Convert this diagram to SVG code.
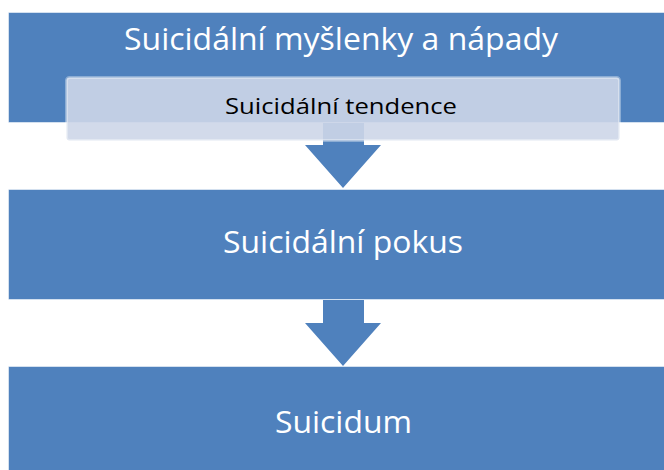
<svg xmlns="http://www.w3.org/2000/svg" width="664" height="470" viewBox="0 0 664 470">
  <style>
    .box { fill: #4F81BD; stroke: #FFFFFF; stroke-opacity: 0.5; stroke-width: 1; }
    .arrow { fill: #4F81BD; }
    .big { font-family: "Open Sans", "Noto Sans", sans-serif; fill: #FFFFFF; text-anchor: middle; }
    .small { font-family: "Open Sans", "Noto Sans", sans-serif; fill: #000000; text-anchor: middle; }
    .overlay { fill: #CDD6E8; fill-opacity: 0.9; stroke: #FFFFFF; stroke-opacity: 0.35; stroke-width: 3; }
  </style>
  <rect x="0" y="0" width="664" height="470" fill="#FFFFFF"/>
  <g id="node-myslenky">
    <rect class="box" x="8.5" y="12.5" width="670" height="110"/>
    <text class="big" x="341" y="50" font-size="31" textLength="434" lengthAdjust="spacingAndGlyphs">Suicidální myšlenky a nápady</text>
  </g>
  <g id="connectors">
    <path class="arrow" d="M323,123 L364,123 L364,145 L381,145 L343,188 L305,145 L323,145 Z"/>
    <path class="arrow" d="M323,300 L364,300 L364,323 L381,323 L343,366 L305,323 L323,323 Z"/>
  </g>
  <g id="node-tendence">
    <rect class="overlay" x="66.5" y="77.5" width="553" height="63" rx="3"/>
    <text class="small" x="341" y="113.5" font-size="22" textLength="232" lengthAdjust="spacingAndGlyphs">Suicidální tendence</text>
  </g>
  <g id="node-pokus">
    <rect class="box" x="8.5" y="189.5" width="670" height="110"/>
    <text class="big" x="343" y="253.3" font-size="31" textLength="240" lengthAdjust="spacingAndGlyphs">Suicidální pokus</text>
  </g>
  <g id="node-suicidum">
    <rect class="box" x="8.5" y="366.5" width="670" height="110"/>
    <text class="big" x="343.5" y="433" font-size="31" textLength="137" lengthAdjust="spacingAndGlyphs">Suicidum</text>
  </g>
</svg>
